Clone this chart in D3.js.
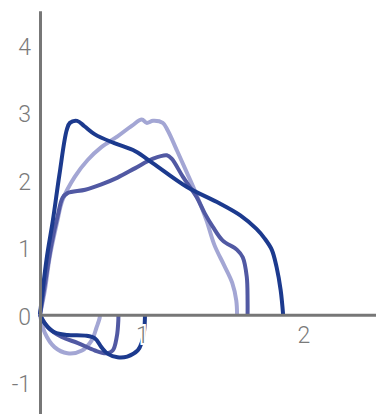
<!DOCTYPE html>
<html>
<head>
<meta charset="utf-8">
<script src="https://cdn.jsdelivr.net/npm/d3@7"></script>
<style>
	body { margin: 0; background: #fff; }
	svg { display: block; }
</style>
</head>
<body>
<svg width="376" height="414"></svg>
<script>
// tick labels
var xTicks = [1, 2];
var yTicks = [-1, 0, 1, 2, 3, 4];

// series, [x, y]
var lightUpper = [[0.37,0],[0.40,0.36],[0.43,0.85],[0.475,1.36],[0.51,1.70],[0.585,2.04],[0.665,2.29],
	[0.75,2.48],[0.85,2.64],[0.94,2.80],[1.0,2.89],[1.03,2.84],[1.07,2.87],[1.13,2.84],[1.16,2.73],
	[1.22,2.42],[1.28,2.10],[1.34,1.77],[1.40,1.40],[1.45,1.03],[1.51,0.73],[1.56,0.47],[1.585,0.21],[1.59,0]];
var lightLower = [[0.37,0],[0.40,-0.27],[0.46,-0.48],[0.54,-0.57],[0.63,-0.53],[0.69,-0.38],[0.72,-0.19],
	[0.74,-0.04],[0.74,0]];

var mediumUpper = [[0.37,0],[0.40,0.44],[0.44,1.03],[0.48,1.47],[0.51,1.73],[0.54,1.80],[0.65,1.85],
	[0.75,1.93],[0.85,2.03],[0.96,2.17],[1.07,2.31],[1.155,2.36],[1.185,2.31],[1.255,2.04],[1.34,1.74],
	[1.39,1.50],[1.44,1.30],[1.50,1.10],[1.59,0.96],[1.625,0.85],[1.65,0.56],[1.655,0.21],[1.655,0]];
var mediumLower = [[0.37,0],[0.42,-0.19],[0.505,-0.33],[0.605,-0.42],[0.71,-0.53],[0.78,-0.57],
	[0.82,-0.53],[0.845,-0.33],[0.855,-0.08],[0.855,0]];

var darkUpper = [[0.37,0],[0.41,0.81],[0.45,1.40],[0.49,2.07],[0.535,2.73],[0.555,2.84],[0.60,2.87],
	[0.645,2.79],[0.71,2.67],[0.83,2.54],[0.96,2.42],[1.07,2.24],[1.28,1.89],[1.48,1.65],[1.61,1.47],
	[1.71,1.27],[1.76,1.13],[1.805,0.96],[1.835,0.70],[1.86,0.36],[1.875,0]];
var darkLower = [[0.37,0],[0.40,-0.13],[0.46,-0.26],[0.54,-0.30],[0.65,-0.31],[0.71,-0.35],[0.75,-0.48],
	[0.79,-0.58],[0.85,-0.63],[0.91,-0.62],[0.975,-0.53],[1.0,-0.41],[1.015,-0.23],[1.02,0]];

var series = [
	{color: '#a3a6d4', parts: [lightUpper, lightLower]},
	{color: '#5159a3', parts: [mediumUpper, mediumLower]},
	{color: '#1c3a8e', parts: [darkUpper, darkLower]}
];

var svg = d3.select('svg');

var x = d3.scaleLinear()
	.domain([0.37, 2.45])
	.range([40, 376]);

var y = d3.scaleLinear()
	.domain([-1.5, 4.5])
	.range([416, 10.75]);

var line = d3.line()
	.curve(d3.curveCatmullRom.alpha(0.5))
	.x(function(d) { return x(d[0]); })
	.y(function(d) { return y(d[1]); });

var g = svg.append('g');
series.forEach(function(s) {
	s.parts.forEach(function(p) {
		g.append('path')
			.datum(p)
			.attr('fill', 'none')
			.attr('stroke', s.color)
			.attr('stroke-width', 4)
			.attr('stroke-linejoin', 'round')
			.attr('d', line);
	});
});

// y axis
var ya = svg.append('g')
	.attr('transform', 'translate(' + x(0.37) + ',0)')
	.call(d3.axisLeft(y).tickValues(yTicks).tickSize(0).tickPadding(9).tickFormat(String));
ya.select('.domain').attr('stroke', '#777').attr('stroke-width', 3);
ya.selectAll('text')
	.attr('fill', '#7a7a7a')
	.attr('font-family', 'Roboto, sans-serif')
	.attr('font-weight', 300)
	.attr('font-size', 23)
	.attr('dy', '0.42em');

// x axis
var xa = svg.append('g')
	.attr('transform', 'translate(0,' + y(0) + ')')
	.call(d3.axisBottom(x).tickValues(xTicks).tickSize(0).tickPadding(12).tickFormat(String));
xa.select('.domain').attr('stroke', '#777').attr('stroke-width', 3);
xa.selectAll('text')
	.attr('fill', '#7a7a7a')
	.attr('font-family', 'Roboto, sans-serif')
	.attr('font-weight', 300)
	.attr('font-size', 23)
	.attr('stroke', '#fff')
	.attr('stroke-width', 4)
	.attr('paint-order', 'stroke');
</script>
</body>
</html>
